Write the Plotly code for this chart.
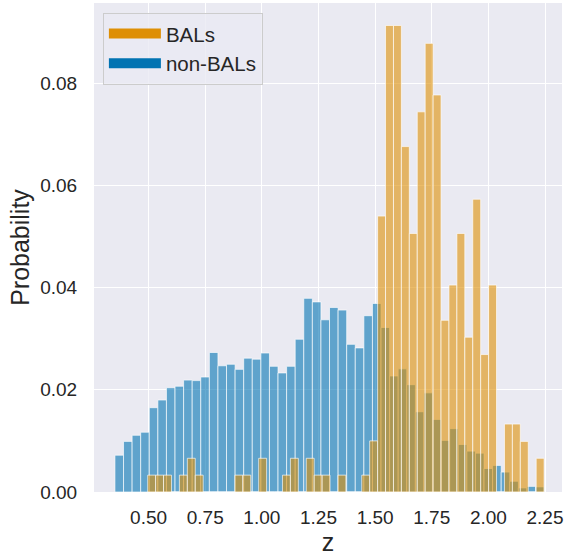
import plotly.graph_objects as go

# ---------------- data ----------------
# non-BAL redshift histogram (probability per bin), 50 equal bins
nonbal_z_min = 0.3515
nonbal_z_max = 2.246
nonbal_prob = [
    0.0072, 0.0099, 0.0111, 0.0117, 0.0165, 0.0180, 0.0204, 0.0207, 0.0219, 0.0218,
    0.0225, 0.0273, 0.0247, 0.0250, 0.0240, 0.0262, 0.0260, 0.0272, 0.0246, 0.0233,
    0.0246, 0.0299, 0.0379, 0.0372, 0.0337, 0.0361, 0.0356, 0.0289, 0.0282, 0.0345,
    0.0369, 0.0322, 0.0227, 0.0241, 0.0210, 0.0157, 0.0194, 0.0142, 0.0101, 0.0124,
    0.0093, 0.0080, 0.0076, 0.0046, 0.0052, 0.0039, 0.0021, 0.0008, 0.0011, 0.0010,
]

# BAL redshift histogram (probability per bin), 50 equal bins
bal_z_min = 0.496
bal_z_max = 2.246
bal_prob = [
    0.0033, 0.0033, 0.0033, 0.0, 0.0033, 0.0066, 0.0033, 0.0, 0.0, 0.0,
    0.0, 0.0033, 0.0033, 0.0, 0.0066, 0.0, 0.0, 0.0033, 0.0066, 0.0,
    0.0066, 0.0033, 0.0033, 0.0, 0.0033, 0.0, 0.0, 0.0033, 0.0100, 0.0540,
    0.0913, 0.0913, 0.0676, 0.0506, 0.0744, 0.0878, 0.0777, 0.0336, 0.0405, 0.0506,
    0.0303, 0.0573, 0.0269, 0.0405, 0.0, 0.0133, 0.0133, 0.0099, 0.0, 0.0066,
]

x_ticks = [0.50, 0.75, 1.00, 1.25, 1.50, 1.75, 2.00, 2.25]
y_ticks = [0.00, 0.02, 0.04, 0.06, 0.08]

series_names = ["BALs", "non-BALs"]
BLUE = "#0173B2"
ORANGE = "#DE8F05"
TEXT = "#262626"
FONT = "Liberation Sans, Arial, sans-serif"


def bins(zmin, zmax, n):
    w = (zmax - zmin) / n
    return [zmin + (i + 0.5) * w for i in range(n)], w


nb_x, nb_w = bins(nonbal_z_min, nonbal_z_max, len(nonbal_prob))
b_x, b_w = bins(bal_z_min, bal_z_max, len(bal_prob))

fig = go.Figure()

fig.add_trace(go.Bar(
    x=nb_x, y=nonbal_prob, width=nb_w, showlegend=False,
    marker=dict(color="rgba(1,115,178,0.6)",
                line=dict(color="rgba(255,255,255,0.65)", width=1)),
))
fig.add_trace(go.Bar(
    x=b_x, y=bal_prob, width=b_w, showlegend=False,
    marker=dict(color="rgba(222,143,5,0.6)",
                line=dict(color="rgba(255,255,255,0.65)", width=1)),
))

# legend entries (thick line swatches, no marks drawn)
for name, col in zip(series_names, [ORANGE, BLUE]):
    fig.add_trace(go.Scatter(
        x=[None], y=[None], mode="lines", name=name,
        line=dict(color=col, width=14),
    ))

fig.update_layout(
    width=566, height=556,
    margin=dict(l=94, r=3, t=3, b=60),
    paper_bgcolor="white",
    plot_bgcolor="#EAEAF2",
    barmode="overlay",
    font=dict(family=FONT, color=TEXT, size=19),
    legend=dict(
        x=0.019, y=0.98, xanchor="left", yanchor="top",
        bgcolor="rgba(234,234,242,0.8)", bordercolor="#CCCCCC", borderwidth=1,
        font=dict(size=20.5, color=TEXT), tracegroupgap=0, itemwidth=52,
    ),
    xaxis=dict(
        range=[0.259, 2.325], tickvals=x_ticks, tickformat=".2f",
        showgrid=True, gridcolor="white", gridwidth=1.3, zeroline=False,
        ticks="outside", ticklen=8, tickcolor="rgba(0,0,0,0)",
        tickfont=dict(size=19, color=TEXT),
        title=dict(text="z", font=dict(size=25, color=TEXT), standoff=8),
        showline=False,
    ),
    yaxis=dict(
        range=[0, 0.0957], tickvals=y_ticks, tickformat=".2f",
        showgrid=True, gridcolor="white", gridwidth=1.3, zeroline=False,
        ticks="outside", ticklen=12, tickcolor="rgba(0,0,0,0)",
        tickfont=dict(size=19, color=TEXT),
        title=dict(text="Probability", font=dict(size=25, color=TEXT), standoff=3),
        showline=False,
    ),
)

fig.write_html("out.html")
